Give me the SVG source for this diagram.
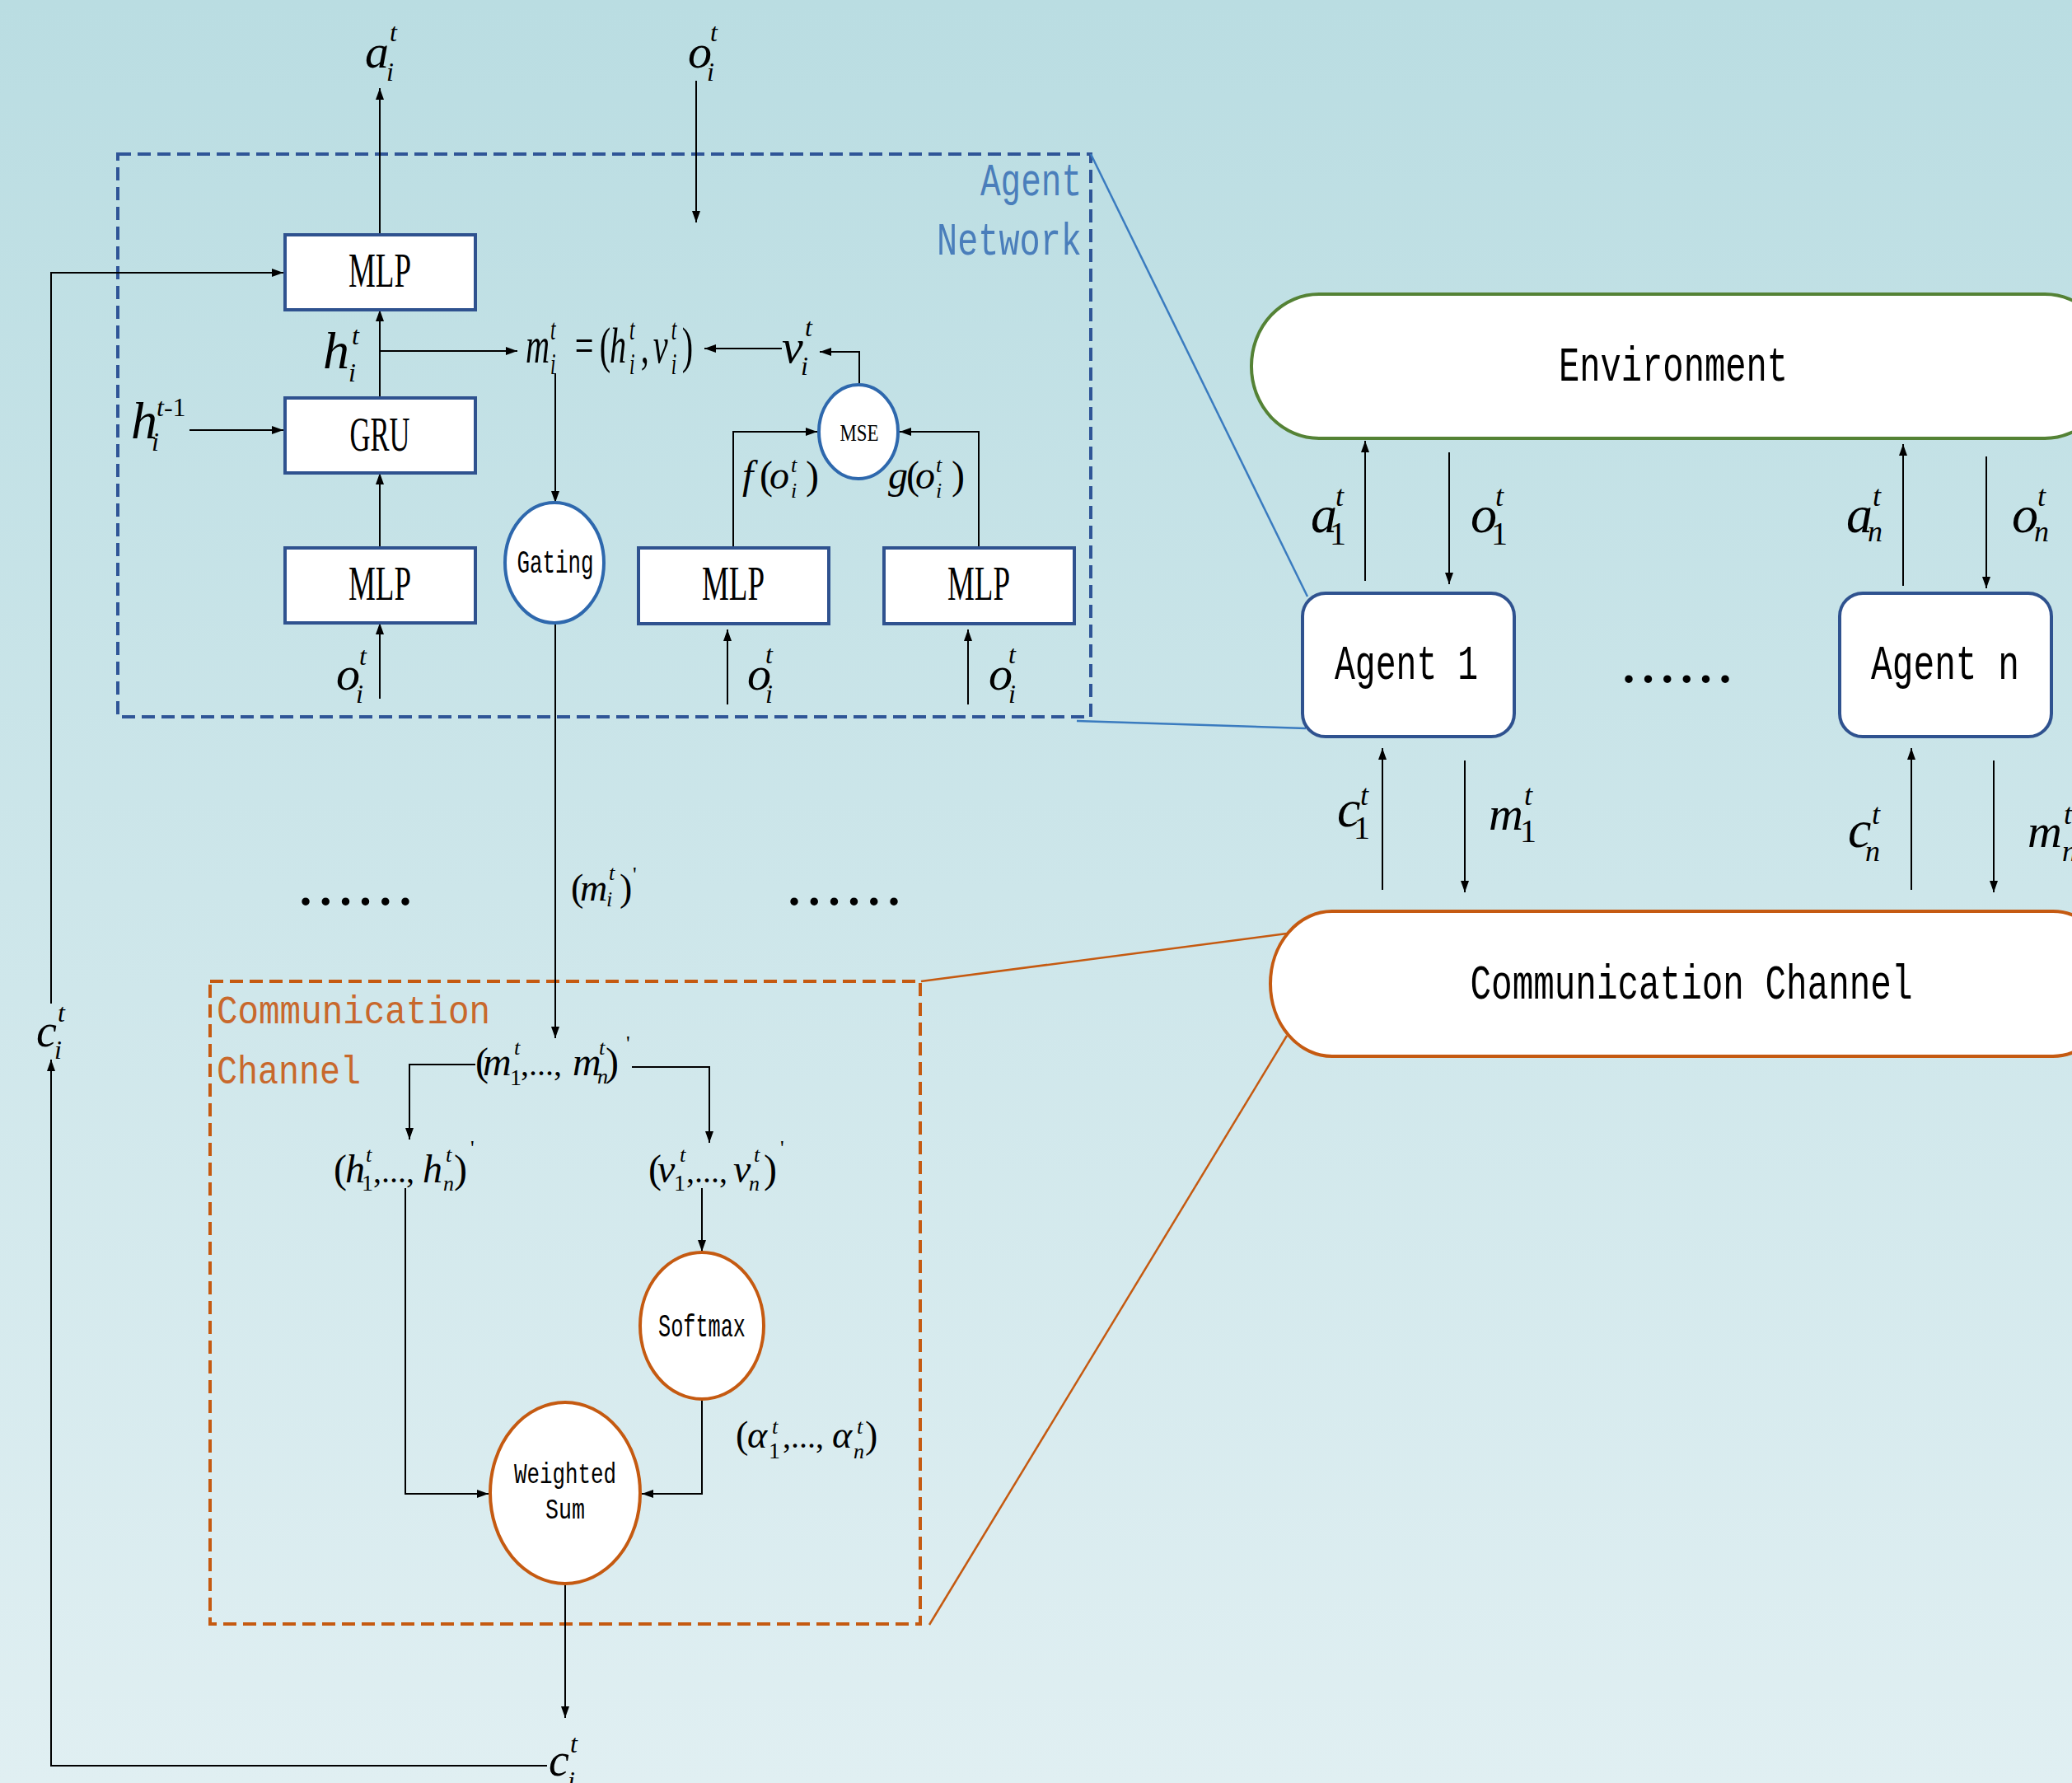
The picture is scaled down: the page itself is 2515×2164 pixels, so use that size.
<svg xmlns="http://www.w3.org/2000/svg" width="2515" height="2164" viewBox="0 0 2515 2164">
<defs>
<linearGradient id="bg" x1="0" y1="0" x2="0" y2="1">
<stop offset="0" stop-color="#badde2"/>
<stop offset="1" stop-color="#e0eff2"/>
</linearGradient>
<marker id="ah" viewBox="0 0 14 10" refX="14" refY="5" markerWidth="14" markerHeight="10" markerUnits="userSpaceOnUse" orient="auto"><path d="M0,0 L14,5 L0,10 z" fill="#000"/></marker>
<style>
.c{fill:none;stroke:#000;stroke-width:2}
.ca{fill:none;stroke:#000;stroke-width:2;marker-end:url(#ah)}
.bx{fill:#fff;stroke:#2f528f;stroke-width:4}
.el{fill:#fff;stroke:#2e68ad;stroke-width:4}
.elo{fill:#fff;stroke:#c55a11;stroke-width:4}
.zb{fill:none;stroke:#3a7bbf;stroke-width:2.5}
.zo{fill:none;stroke:#c55a11;stroke-width:2.5}
.serif{font-family:"Liberation Serif","Times New Roman",serif;text-anchor:middle;font-size:60px;fill:#000}
.mono{font-family:"Liberation Mono","Courier New",monospace;fill:#000}
.mi{font-family:"Liberation Serif","Times New Roman",serif;font-style:italic;font-size:58px;fill:#000}
.up{font-family:"Liberation Serif","Times New Roman",serif;font-style:normal;fill:#000}
.sp{font-family:"Liberation Serif","Times New Roman",serif;font-style:italic;font-size:32px;fill:#000}
.spu{font-family:"Liberation Serif","Times New Roman",serif;font-style:normal;font-size:40px;fill:#000}
.dots{font-family:"Liberation Serif",serif;font-size:80px;fill:#000}
.blue{fill:#4a7ebb}
.orng{fill:#c8682c}
</style>
</defs>
<rect x="0" y="0" width="2515" height="2164" fill="url(#bg)"/>

<g id="agent-network-frame">
<rect x="143" y="187" width="1181" height="683" fill="none" stroke="#2f5597" stroke-width="4" stroke-dasharray="16 8"/>
<text class="mono blue" x="1313" y="237" font-size="56" text-anchor="end" textLength="123" lengthAdjust="spacingAndGlyphs">Agent</text>
<text class="mono blue" x="1313" y="309" font-size="56" text-anchor="end" textLength="176" lengthAdjust="spacingAndGlyphs">Network</text>
</g>

<g id="comm-channel-frame">
<rect x="255" y="1191" width="862" height="780" fill="none" stroke="#c55a11" stroke-width="4" stroke-dasharray="16 8"/>
<text class="mono orng" x="263" y="1242" font-size="48" textLength="332" lengthAdjust="spacingAndGlyphs">Communication</text>
<text class="mono orng" x="263" y="1315" font-size="48" textLength="175" lengthAdjust="spacingAndGlyphs">Channel</text>
</g>

<g id="connectors">
<path class="ca" d="M461,285 V107"/>
<path class="ca" d="M845,98 V270"/>
<path class="ca" d="M461,483 V376"/>
<path class="ca" d="M461,426 H628"/>
<path class="ca" d="M461,665 V574"/>
<path class="ca" d="M461,848 V756"/>
<path class="ca" d="M230,522 H344"/>
<path class="ca" d="M674,453 V610"/>
<path class="ca" d="M949,423 H855"/>
<path class="ca" d="M1043,467 V427 H995"/>
<path class="ca" d="M890,665 V524 H992"/>
<path class="ca" d="M1188,665 V524 H1092"/>
<path class="ca" d="M883,855 V764"/>
<path class="ca" d="M1175,855 V764"/>
<path class="ca" d="M674,756 V1260"/>
<path class="ca" d="M577,1292 H497 V1383"/>
<path class="ca" d="M767,1295 H861 V1387"/>
<path class="ca" d="M492,1442 V1813 H593"/>
<path class="ca" d="M852,1442 V1519"/>
<path class="ca" d="M852,1698 V1813 H779"/>
<path class="ca" d="M686,1922 V2085"/>
<path class="ca" d="M664,2143 H62 V1286"/>
<path class="ca" d="M62,1218 V331 H344"/>
<path class="ca" d="M1657,705 V535"/>
<path class="ca" d="M1759,549 V709"/>
<path class="ca" d="M2310,711 V539"/>
<path class="ca" d="M2411,554 V714"/>
<path class="ca" d="M1678,1080 V908"/>
<path class="ca" d="M1778,923 V1083"/>
<path class="ca" d="M2320,1080 V908"/>
<path class="ca" d="M2420,923 V1083"/>
<path class="zb" d="M1324,187 L1587,724"/>
<path class="zb" d="M1307,875 L1585,884"/>
<path class="zo" d="M1118,1191 L1562,1133"/>
<path class="zo" d="M1128,1972 L1562,1257"/>
</g>

<g id="mlp-top"><rect class="bx" x="346" y="285" width="231" height="91"/><text class="serif" x="461" y="348" textLength="76" lengthAdjust="spacingAndGlyphs">MLP</text></g>
<g id="gru"><rect class="bx" x="346" y="483" width="231" height="91"/><text class="serif" x="461" y="547" textLength="73" lengthAdjust="spacingAndGlyphs">GRU</text></g>
<g id="mlp-obs"><rect class="bx" x="346" y="665" width="231" height="91"/><text class="serif" x="461" y="728" textLength="76" lengthAdjust="spacingAndGlyphs">MLP</text></g>
<g id="mlp-f"><rect class="bx" x="775" y="665" width="231" height="92"/><text class="serif" x="890" y="728" textLength="76" lengthAdjust="spacingAndGlyphs">MLP</text></g>
<g id="mlp-g"><rect class="bx" x="1073" y="665" width="231" height="92"/><text class="serif" x="1188" y="728" textLength="76" lengthAdjust="spacingAndGlyphs">MLP</text></g>
<g id="gating"><ellipse class="el" cx="673" cy="683" rx="60" ry="73"/><text class="mono" x="674" y="695" font-size="38" text-anchor="middle" textLength="93" lengthAdjust="spacingAndGlyphs">Gating</text></g>
<g id="mse"><ellipse class="el" cx="1042" cy="524" rx="48" ry="57"/><text class="serif" x="1043" y="535" style="font-size:30px" textLength="47" lengthAdjust="spacingAndGlyphs">MSE</text></g>
<g id="softmax"><ellipse class="elo" cx="852" cy="1609" rx="75" ry="89"/><text class="mono" x="852" y="1622" font-size="38" text-anchor="middle" textLength="106" lengthAdjust="spacingAndGlyphs">Softmax</text></g>
<g id="weighted-sum"><ellipse class="elo" cx="686" cy="1812" rx="91" ry="110"/><text class="mono" x="686" y="1800" font-size="35" text-anchor="middle" textLength="124" lengthAdjust="spacingAndGlyphs">Weighted</text><text class="mono" x="686" y="1843" font-size="35" text-anchor="middle" textLength="48" lengthAdjust="spacingAndGlyphs">Sum</text></g>

<g id="environment"><rect x="1519" y="357" width="1045" height="175" rx="82" ry="87" fill="#fff" stroke="#548235" stroke-width="4"/><text class="mono" x="2031" y="462" font-size="60" text-anchor="middle" textLength="278" lengthAdjust="spacingAndGlyphs">Environment</text></g>
<g id="agent-1"><rect class="bx" x="1581" y="720" width="257" height="174" rx="28"/><text class="mono" x="1707" y="824" font-size="59" text-anchor="middle" textLength="174" lengthAdjust="spacingAndGlyphs">Agent 1</text></g>
<g id="agent-n"><rect class="bx" x="2233" y="720" width="257" height="174" rx="28"/><text class="mono" x="2361" y="824" font-size="59" text-anchor="middle" textLength="180" lengthAdjust="spacingAndGlyphs">Agent n</text></g>
<g id="communication-channel"><rect x="1542" y="1106" width="1025" height="176" rx="75" ry="88" fill="#fff" stroke="#c55a11" stroke-width="4"/><text class="mono" x="2053" y="1212" font-size="60" text-anchor="middle" textLength="537" lengthAdjust="spacingAndGlyphs">Communication Channel</text></g>

<g id="labels">
<text id="lbl-a-top" class="mi" x="443" y="82">a<tspan class="sp" x="473" y="50">t</tspan><tspan class="sp" x="469" y="98">i</tspan></text>
<text id="lbl-o-top" class="mi" x="835" y="82">o<tspan class="sp" x="862" y="50">t</tspan><tspan class="sp" x="858" y="98">i</tspan></text>
<text id="lbl-h" class="mi" x="392" y="447" style="font-size:64px">h<tspan class="sp" x="427" y="418">t</tspan><tspan class="sp" x="423" y="463">i</tspan></text>
<text id="lbl-hprev" class="mi" x="159" y="532" style="font-size:64px">h<tspan class="sp" x="190" y="505">t</tspan><tspan class="sp" style="font-style:normal">-1</tspan><tspan class="sp" x="184" y="547">i</tspan></text>
<text id="lbl-v" class="mi" x="949" y="440">v<tspan class="sp" x="977" y="408">t</tspan><tspan class="sp" x="972" y="455">i</tspan></text>
<text id="lbl-o1" class="mi" x="408" y="837">o<tspan class="sp" x="436" y="807">t</tspan><tspan class="sp" x="432" y="853">i</tspan></text>
<text id="lbl-o2" class="mi" x="907" y="837">o<tspan class="sp" x="929" y="805">t</tspan><tspan class="sp" x="929" y="853">i</tspan></text>
<text id="lbl-o3" class="mi" x="1200" y="837">o<tspan class="sp" x="1224" y="805">t</tspan><tspan class="sp" x="1224" y="853">i</tspan></text>
<g transform="translate(638,440) scale(0.65,1)">
<text id="lbl-m" class="mi" x="0" y="0" style="font-size:62px">m<tspan class="sp" style="font-size:36px" x="46" y="-28">t</tspan><tspan class="sp" style="font-size:36px" x="46" y="14">i</tspan><tspan class="up" x="92" y="0">=</tspan><tspan class="up" x="138" y="0">(</tspan><tspan x="157" y="0">h</tspan><tspan class="sp" style="font-size:36px" x="194" y="-28">t</tspan><tspan class="sp" style="font-size:36px" x="194" y="14">i</tspan><tspan class="up" x="215" y="0">,</tspan><tspan x="238" y="0">v</tspan><tspan class="sp" style="font-size:36px" x="272" y="-28">t</tspan><tspan class="sp" style="font-size:36px" x="272" y="14">i</tspan><tspan class="up" x="292" y="0">)</tspan></text>
</g>
<text id="lbl-f" class="mi" x="901" y="593" style="font-size:48px">f<tspan class="up" x="922" y="593">(</tspan><tspan x="934" y="593">o</tspan><tspan class="sp" style="font-size:26px" x="960" y="573">t</tspan><tspan class="sp" style="font-size:26px" x="960" y="604">i</tspan><tspan class="up" x="978" y="593">)</tspan></text>
<text id="lbl-g" class="mi" x="1078" y="593" style="font-size:48px">g<tspan class="up" x="1100" y="593">(</tspan><tspan x="1111" y="593">o</tspan><tspan class="sp" style="font-size:26px" x="1136" y="573">t</tspan><tspan class="sp" style="font-size:26px" x="1136" y="604">i</tspan><tspan class="up" x="1155" y="593">)</tspan></text>
<text id="lbl-mi-prime" class="mi" x="704" y="1093" style="font-size:46px"><tspan class="up" x="693" y="1093">(</tspan><tspan x="704" y="1093">m</tspan><tspan class="sp" style="font-size:26px" x="739" y="1068">t</tspan><tspan class="sp" style="font-size:26px" x="736" y="1100">i</tspan><tspan class="up" x="752" y="1093">)</tspan><tspan class="up" style="font-size:26px" x="768" y="1070">'</tspan></text>
<text id="lbl-m-all" class="mi" x="577" y="1305" style="font-size:48px"><tspan class="up" x="577" y="1305">(</tspan><tspan x="586" y="1305">m</tspan><tspan class="sp" style="font-size:26px" x="624" y="1280">t</tspan><tspan class="up" style="font-size:28px" x="619" y="1317">1</tspan><tspan class="up" style="font-size:40px" x="632" y="1305">,...,</tspan><tspan x="695" y="1305">m</tspan><tspan class="sp" style="font-size:26px" x="727" y="1280">t</tspan><tspan class="sp" style="font-size:26px" x="725" y="1315">n</tspan><tspan class="up" x="735" y="1305">)</tspan><tspan class="up" style="font-size:26px" x="760" y="1275">'</tspan></text>
<text id="lbl-h-all" class="mi" x="405" y="1435" style="font-size:48px"><tspan class="up" x="405" y="1435">(</tspan><tspan x="419" y="1435">h</tspan><tspan class="sp" style="font-size:26px" x="444" y="1410">t</tspan><tspan class="up" style="font-size:28px" x="439" y="1445">1</tspan><tspan class="up" style="font-size:40px" x="453" y="1435">,...,</tspan><tspan x="513" y="1435">h</tspan><tspan class="sp" style="font-size:26px" x="541" y="1410">t</tspan><tspan class="sp" style="font-size:26px" x="538" y="1445">n</tspan><tspan class="up" x="551" y="1435">)</tspan><tspan class="up" style="font-size:26px" x="571" y="1402">'</tspan></text>
<text id="lbl-v-all" class="mi" x="787" y="1435" style="font-size:48px"><tspan class="up" x="787" y="1435">(</tspan><tspan x="798" y="1435">v</tspan><tspan class="sp" style="font-size:26px" x="825" y="1410">t</tspan><tspan class="up" style="font-size:28px" x="818" y="1445">1</tspan><tspan class="up" style="font-size:40px" x="833" y="1435">,...,</tspan><tspan x="890" y="1435">v</tspan><tspan class="sp" style="font-size:26px" x="915" y="1410">t</tspan><tspan class="sp" style="font-size:26px" x="909" y="1445">n</tspan><tspan class="up" x="927" y="1435">)</tspan><tspan class="up" style="font-size:26px" x="947" y="1402">'</tspan></text>
<text id="lbl-alpha" class="mi" x="893" y="1757" style="font-size:46px"><tspan class="up" x="893" y="1757">(</tspan><tspan x="907" y="1757">α</tspan><tspan class="sp" style="font-size:26px" x="937" y="1740">t</tspan><tspan class="up" style="font-size:28px" x="933" y="1770">1</tspan><tspan class="up" style="font-size:40px" x="950" y="1757">,...,</tspan><tspan x="1010" y="1757">α</tspan><tspan class="sp" style="font-size:26px" x="1040" y="1740">t</tspan><tspan class="sp" style="font-size:26px" x="1036" y="1770">n</tspan><tspan class="up" x="1050" y="1757">)</tspan></text>
<text id="lbl-c-left" class="mi" x="44" y="1270" style="font-size:56px">c<tspan class="sp" x="70" y="1240">t</tspan><tspan class="sp" x="66" y="1285">i</tspan></text>
<text id="lbl-c-bottom" class="mi" x="666" y="2155" style="font-size:56px">c<tspan class="sp" x="692" y="2127">t</tspan><tspan class="sp" x="689" y="2172">i</tspan></text>
<text id="lbl-a1" class="mi" x="1591" y="646" style="font-size:64px">a<tspan class="sp" style="font-size:36px" x="1621" y="614">t</tspan><tspan class="spu" x="1614" y="661">1</tspan></text>
<text id="lbl-o1r" class="mi" x="1785" y="646" style="font-size:64px">o<tspan class="sp" style="font-size:36px" x="1815" y="614">t</tspan><tspan class="spu" x="1810" y="661">1</tspan></text>
<text id="lbl-an" class="mi" x="2241" y="646" style="font-size:64px">a<tspan class="sp" style="font-size:36px" x="2273" y="614">t</tspan><tspan class="sp" style="font-size:36px" x="2267" y="657">n</tspan></text>
<text id="lbl-on" class="mi" x="2442" y="646" style="font-size:64px">o<tspan class="sp" style="font-size:36px" x="2473" y="614">t</tspan><tspan class="sp" style="font-size:36px" x="2469" y="657">n</tspan></text>
<text id="lbl-c1" class="mi" x="1623" y="1003" style="font-size:64px">c<tspan class="sp" style="font-size:36px" x="1651" y="977">t</tspan><tspan class="spu" x="1643" y="1018">1</tspan></text>
<text id="lbl-m1" class="mi" x="1807" y="1007" style="font-size:58px">m<tspan class="sp" style="font-size:36px" x="1850" y="977">t</tspan><tspan class="spu" x="1845" y="1022">1</tspan></text>
<text id="lbl-cn" class="mi" x="2243" y="1028" style="font-size:64px">c<tspan class="sp" style="font-size:36px" x="2272" y="1000">t</tspan><tspan class="sp" style="font-size:36px" x="2264" y="1045">n</tspan></text>
<text id="lbl-mn" class="mi" x="2461" y="1028" style="font-size:58px">m<tspan class="sp" style="font-size:36px" x="2505" y="1000">t</tspan><tspan class="sp" style="font-size:36px" x="2503" y="1045">n</tspan></text>
<text class="dots" x="361" y="1098" textLength="141">......</text>
<text class="dots" x="954" y="1098" textLength="141">......</text>
<text class="dots" x="1967" y="828" textLength="137">......</text>
</g>
</svg>
